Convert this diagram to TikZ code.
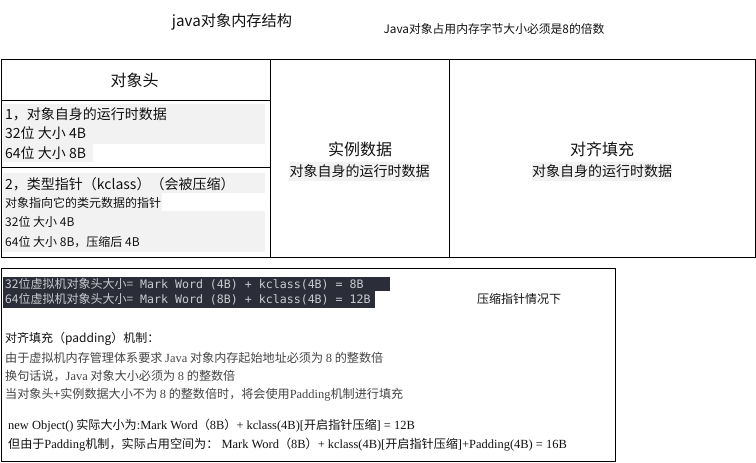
\documentclass[tikz,border=0pt]{standalone}
\usepackage{fontspec}
\setmainfont{Noto Sans CJK SC}
\newfontfamily\mn{DejaVu Sans Mono}
\newfontfamily\lat[Scale=1.03]{Liberation Serif}
\definecolor{codebg}{HTML}{2B2D38}
\definecolor{codefg}{HTML}{C9CBD0}
\definecolor{hl}{HTML}{F2F2F2}
\definecolor{txt}{HTML}{111111}
\definecolor{gtxt}{HTML}{444444}
\tikzset{
  box/.style={draw=black,line width=1.4pt},
  hlbox/.style={fill=hl,draw=none},
  codebox/.style={fill=codebg,draw=none},
  lbl/.style={inner sep=0pt,anchor=west,text=txt},
  ctr/.style={inner sep=0pt,anchor=center,text=txt},
}
\begin{document}
\begin{tikzpicture}[x=1pt,y=-1pt]
\useasboundingbox (0,0) rectangle (756,463);
% titles
\node[ctr,font=\fontsize{15.2}{18}\selectfont] (title) at (232,22) {java对象内存结构};
\node[ctr,font=\fontsize{11.8}{13}\selectfont] (note) at (494,29) {Java对象占用内存字节大小必须是8的倍数};
% highlight backgrounds
\path[hlbox] (3,104) rectangle (265,144);
\path[hlbox] (3,144) rectangle (93,162);
\path[hlbox] (3,173) rectangle (265,193);
\path[hlbox] (3,193) rectangle (162,211);
\path[hlbox] (3,211) rectangle (265,231);
\path[hlbox] (3,231) rectangle (265,252);
\path[hlbox] (289,162) rectangle (430,181);
\path[hlbox] (532,162) rectangle (672,181);
% main boxes
\node[box,minimum width=269pt,minimum height=41pt,inner sep=0pt,anchor=north west] (hdr) at (1,59) {};
\node[box,minimum width=269pt,minimum height=67pt,inner sep=0pt,anchor=north west] (sec1) at (1,100) {};
\node[box,minimum width=269pt,minimum height=90pt,inner sep=0pt,anchor=north west] (sec2) at (1,167) {};
\node[box,minimum width=179pt,minimum height=198pt,inner sep=0pt,anchor=north west] (inst) at (270,59) {};
\node[box,minimum width=306pt,minimum height=198pt,inner sep=0pt,anchor=north west] (pad) at (449,59) {};
% header texts
\node[ctr,font=\fontsize{16}{19}\selectfont] (hdrt) at (134.5,80) {对象头};
\node[lbl,font=\fontsize{14}{17}\selectfont] (s1a) at (5,114) {1，对象自身的运行时数据};
\node[lbl,font=\fontsize{14}{17}\selectfont] (s1b) at (5,133.5) {32位 大小 4B};
\node[lbl,font=\fontsize{14}{17}\selectfont] (s1c) at (5,153) {64位 大小 8B};
\node[lbl,font=\fontsize{14}{17}\selectfont] (s2a) at (5,184) {2，类型指针（kclass）（会被压缩）};
\node[lbl,font=\fontsize{12}{14}\selectfont] (s2b) at (5,203) {对象指向它的类元数据的指针};
\node[lbl,font=\fontsize{12}{14}\selectfont] (s2c) at (5,222) {32位 大小 4B};
\node[lbl,font=\fontsize{12}{14}\selectfont] (s2d) at (5,242) {64位 大小 8B，压缩后 4B};
\node[ctr,font=\fontsize{16}{19}\selectfont] (instt) at (360,149.5) {实例数据};
\node[ctr,font=\fontsize{14}{17}\selectfont] (insts) at (359.5,171) {对象自身的运行时数据};
\node[ctr,font=\fontsize{16}{19}\selectfont] (padt) at (602,149.5) {对齐填充};
\node[ctr,font=\fontsize{14}{17}\selectfont] (pads) at (602,171) {对象自身的运行时数据};
% bottom box
\node[box,line width=1.3pt,minimum width=614pt,minimum height=193pt,inner sep=0pt,anchor=north west] (bot) at (1,268) {};
\path[codebox] (3,277) rectangle (390,291);
\path[codebox] (3,291) rectangle (375,307.5);
\node[lbl,text=codefg,font=\fontsize{12}{14}\selectfont] (c1) at (5,284) {32位虚拟机对象头大小={\mn\fontsize{11.6}{14}\selectfont\ Mark Word (4B) + kclass(4B) = 8B}};
\node[lbl,text=codefg,font=\fontsize{12}{14}\selectfont] (c2) at (5,299.5) {64位虚拟机对象头大小={\mn\fontsize{11.6}{14}\selectfont\ Mark Word (8B) + kclass(4B) = 12B}};
\node[ctr,font=\fontsize{12}{14}\selectfont] (cmp) at (519,299) {压缩指针情况下};
\node[lbl,font=\fontsize{12}{14}\selectfont] (p1) at (5,339) {对齐填充（padding）机制：};
\node[lbl,text=gtxt,font=\fontsize{12.1}{14}\selectfont] (p2) at (5,357.5) {由于虚拟机内存管理体系要求 {\lat Java} 对象内存起始地址必须为 {\lat 8} 的整数倍};
\node[lbl,text=gtxt,font=\fontsize{12.1}{14}\selectfont] (p3) at (5,376) {换句话说，{\lat Java} 对象大小必须为 {\lat 8} 的整数倍};
\node[lbl,text=gtxt,font=\fontsize{12.1}{14}\selectfont] (p4) at (5,395) {当对象头+实例数据大小不为 {\lat 8} 的整数倍时，将会使用{\lat Padding}机制进行填充};
\node[lbl,font=\fontsize{12.1}{14}\selectfont] (p5) at (8,426) {{\lat new Object()} 实际大小为{\lat :Mark Word}（{\lat 8B}）{\lat + kclass(4B)[}开启指针压缩{\lat ] = 12B}};
\node[lbl,font=\fontsize{12.1}{14}\selectfont] (p6) at (8,445) {但由于{\lat Padding}机制，实际占用空间为：{\lat\ Mark Word}（{\lat 8B}）{\lat + kclass(4B)[}开启指针压缩{\lat ]+Padding(4B) = 16B}};
\end{tikzpicture}
\end{document}
